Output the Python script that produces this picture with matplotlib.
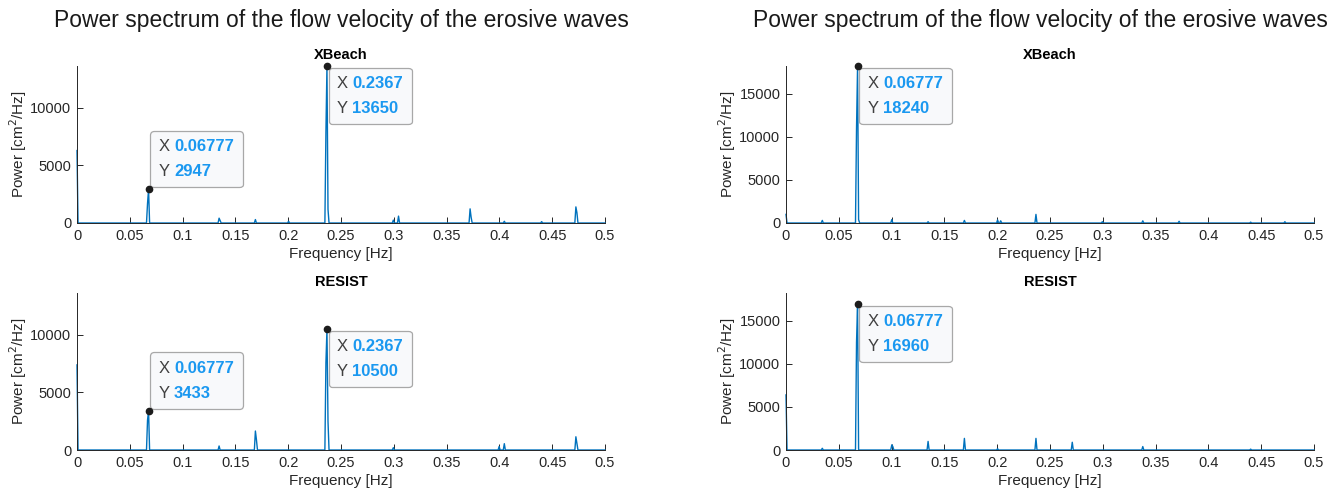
import numpy as np
import matplotlib
matplotlib.use('Agg')
import matplotlib.pyplot as plt
from matplotlib.offsetbox import TextArea, HPacker, VPacker, AnnotationBbox

plt.rcParams['font.family'] = ['Liberation Sans', 'DejaVu Sans']

# frequency bins of the spectrum (resolution read from the datatips)
df = 0.06777 / 69
nbins = 510

# spikes: frequency [Hz] -> power [cm^2/Hz]
xbeach_left = {0.0: 6300, 0.0668: 1700, 0.06777: 2947, 0.135: 420, 0.1355: 200,
               0.169: 300, 0.200: 150, 0.2357: 7900, 0.2367: 13650, 0.2377: 1200,
               0.300: 250, 0.304: 600, 0.372: 1230, 0.373: 500, 0.405: 150,
               0.440: 120, 0.472: 1400, 0.473: 900}
resist_left = {0.0: 7400, 0.0668: 2600, 0.06777: 3433, 0.135: 350, 0.169: 1650,
               0.170: 900, 0.2357: 7600, 0.2367: 10500, 0.2377: 2500, 0.300: 200,
               0.400: 300, 0.405: 550, 0.472: 1150, 0.473: 600}
xbeach_right = {0.0: 1000, 0.034: 300, 0.0668: 11000, 0.06777: 18240, 0.0688: 400,
                0.100: 400, 0.135: 150, 0.169: 300, 0.200: 350, 0.203: 250,
                0.2367: 1000, 0.300: 150, 0.338: 250, 0.372: 200, 0.440: 100,
                0.472: 150}
resist_right = {0.0: 6400, 0.034: 200, 0.0668: 12500, 0.06777: 16960, 0.100: 600,
                0.101: 400, 0.135: 1000, 0.169: 1350, 0.200: 150, 0.2367: 1350,
                0.271: 900, 0.338: 400, 0.440: 100}

# datatips: (x, y, box goes up?)
tips_xbeach_left = [(0.06777, 2947, True), (0.2367, 13650, False)]
tips_resist_left = [(0.06777, 3433, True), (0.2367, 10500, False)]
tips_xbeach_right = [(0.06777, 18240, False)]
tips_resist_right = [(0.06777, 16960, False)]

ymax_left = 13650
ymax_right = 18240

suptitle = 'Power spectrum of the flow velocity of the erosive waves'
xticks = np.arange(0, 0.51, 0.05)
xticklabels = ['0', '0.05', '0.1', '0.15', '0.2', '0.25', '0.3', '0.35', '0.4', '0.45', '0.5']

line_color = '#0072BD'
axis_color = '#262626'
tip_value_color = '#1a98f0'


def spectrum(peaks):
  freq = np.arange(nbins) * df
  power = np.zeros(nbins)
  for f, p in peaks.items():
    power[int(round(f / df))] = p
  return freq, power


def datatip(ax, x, y, up):
  label = '{:.4g}'.format(x)
  rows = []
  for name, val in (('X ', label), ('Y ', str(y))):
    rows.append(HPacker(children=[
        TextArea(name, textprops=dict(color='#404040', fontsize=12)),
        TextArea(val, textprops=dict(color=tip_value_color, fontsize=12, fontweight='bold'))],
        align='baseline', pad=0, sep=0))
  box = VPacker(children=rows, align='left', pad=0, sep=7)
  off = 7.2
  ab = AnnotationBbox(box, (x, y), xybox=(off, off if up else -off), xycoords='data',
                      boxcoords='offset points', box_alignment=(0, 0) if up else (0, 1),
                      pad=0, frameon=True, annotation_clip=False,
                      bboxprops=dict(boxstyle='round,pad=0.6,rounding_size=0.25',
                                     facecolor='#f8f9fb', edgecolor='#a8a8a8', lw=0.9))
  ax.add_artist(ab)
  ax.plot([x], [y], 'o', color='#1c1c1c', ms=4.5, clip_on=False, zorder=5)


def panel(rect, peaks, title, ymax, yticks, tips):
  ax = fig.add_axes(rect)
  freq, power = spectrum(peaks)
  ax.plot(freq, power, color=line_color, lw=1.0, clip_on=False)
  ax.set_xlim(0, 0.5)
  ax.set_ylim(0, ymax)
  ax.set_xticks(xticks)
  ax.set_xticklabels(xticklabels)
  ax.set_yticks(yticks)
  ax.set_yticklabels([str(t) for t in yticks])
  for s in ('top', 'right'):
    ax.spines[s].set_visible(False)
  for s in ('left', 'bottom'):
    ax.spines[s].set_color(axis_color)
    ax.spines[s].set_linewidth(0.7)
  ax.tick_params(direction='in', length=4, width=0.7, colors=axis_color,
                 labelsize=10.5, pad=4)
  ax.set_xlabel('Frequency [Hz]', fontsize=11, color=axis_color, labelpad=3)
  ax.set_ylabel('Power [cm$^2$/Hz]', fontsize=11, color=axis_color, labelpad=1)
  ax.set_title(title, fontsize=10.5, fontweight='bold', color='black', pad=5)
  for x, y, up in tips:
    datatip(ax, x, y, up)
  return ax


fig = plt.figure(figsize=(13.36, 4.95), dpi=100)

W, H = 1336.0, 495.0
aw = 528 / W
ah = 157 / H
lx = 77 / W
rx = 786 / W
ty = 1 - 223 / H
by = 1 - 450 / H

panel([lx, ty, aw, ah], xbeach_left, 'XBeach', ymax_left, [0, 5000, 10000], tips_xbeach_left)
panel([lx, by, aw, ah], resist_left, 'RESIST', ymax_left, [0, 5000, 10000], tips_resist_left)
panel([rx, ty, aw, ah], xbeach_right, 'XBeach', ymax_right, [0, 5000, 10000, 15000], tips_xbeach_right)
panel([rx, by, aw, ah], resist_right, 'RESIST', ymax_right, [0, 5000, 10000, 15000], tips_resist_right)

fig.text(341 / W, 1 - 20 / H, suptitle, ha='center', va='center', fontsize=16.5, color='#1a1a1a')
fig.text(1040 / W, 1 - 20 / H, suptitle, ha='center', va='center', fontsize=16.5, color='#1a1a1a')

fig.savefig('out.png', dpi=100, facecolor='white')
